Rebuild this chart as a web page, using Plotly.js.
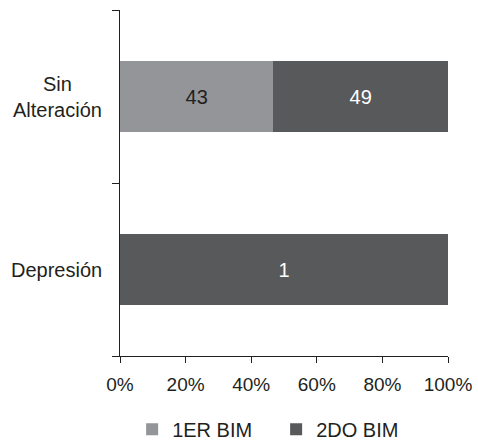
<!DOCTYPE html>
<html>
<head>
<meta charset="utf-8">
<script src="https://cdn.plot.ly/plotly-3.0.1.min.js"></script>
<style>html,body{margin:0;padding:0;background:#fff;}#chart{width:478px;height:448px;}</style>
</head>
<body>
<div id="chart"></div>
<script>
var categories = ["Depresión", "Sin<br>Alteración"];
var series1Name = "1ER BIM";
var series1Values = [0, 43];
var series2Name = "2DO BIM";
var series2Values = [1, 49];
var xTickValues = [0, 20, 40, 60, 80, 100];
var xTickLabels = ["0%", "20%", "40%", "60%", "80%", "100%"];

function labels(vals) { return vals.map(function (v) { return v === 0 ? "" : String(v); }); }

var font = "Liberation Sans, Arial, sans-serif";
var ink = "#231f20";
var traces = [
  {
    type: "bar", orientation: "h", name: series1Name,
    y: categories, x: series1Values,
    text: labels(series1Values), textposition: "inside", insidetextanchor: "middle",
    textfont: {family: font, size: 20, color: ink},
    marker: {color: "#939598"}, hoverinfo: "none"
  },
  {
    type: "bar", orientation: "h", name: series2Name,
    y: categories, x: series2Values,
    text: labels(series2Values), textposition: "inside", insidetextanchor: "middle",
    textfont: {family: font, size: 20, color: "#ffffff"},
    marker: {color: "#58595b"}, hoverinfo: "none"
  }
];

var annotations = categories.map(function (c) {
  return {
    xref: "paper", x: 0, xanchor: "right", xshift: -16,
    yref: "y", y: c, yanchor: "middle",
    text: c, align: "center", showarrow: false,
    font: {family: font, size: 20, color: ink}
  };
});

var layout = {
  width: 478, height: 448,
  margin: {l: 120, r: 30, t: 10, b: 92, autoexpand: false},
  barmode: "stack", barnorm: "percent", bargap: 0.595,
  paper_bgcolor: "#fff", plot_bgcolor: "#fff",
  font: {family: font, size: 18, color: ink},
  annotations: annotations,
  xaxis: {
    range: [0, 100], tickvals: xTickValues, ticktext: xTickLabels, automargin: false,
    showgrid: false, zeroline: false, showline: true, linecolor: ink, linewidth: 1,
    ticks: "outside", ticklen: 6, tickcolor: ink, ticklabelstandoff: 5,
    tickfont: {family: font, size: 19, color: ink}
  },
  yaxis: {
    range: [-0.5, 1.5], tickson: "boundaries", showticklabels: false, automargin: false,
    showgrid: false, zeroline: false, showline: true, linecolor: ink, linewidth: 1,
    ticks: "outside", ticklen: 7, tickcolor: ink
  },
  showlegend: true,
  legend: {
    orientation: "h", xref: "paper", x: 0.476, xanchor: "center",
    yref: "paper", y: -0.268, yanchor: "bottom",
    font: {family: font, size: 20, color: ink},
    traceorder: "normal", itemwidth: 30, entrywidth: 99
  }
};

Plotly.newPlot("chart", traces, layout, {displayModeBar: false, staticPlot: true});
</script>
</body>
</html>
